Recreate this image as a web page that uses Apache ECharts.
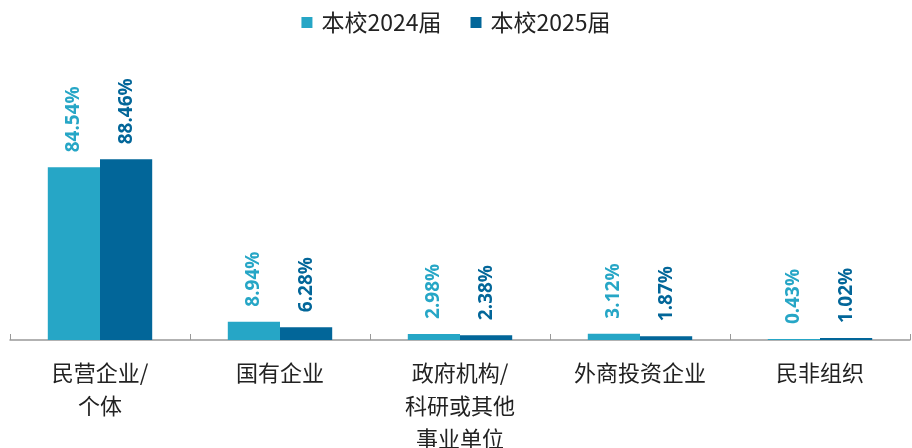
<!DOCTYPE html>
<html><head><meta charset="utf-8">
<script src="https://cdn.jsdelivr.net/npm/echarts@6/dist/echarts.min.js"></script>
<style>html,body{margin:0;padding:0;background:#fff}#c{width:912px;height:448px}</style>
</head><body><div id="c"></div>
<script>
const categories = ['民营企业/\n个体', '国有企业', '政府机构/\n科研或其他\n事业单位', '外商投资企业', '民非组织'];
const seriesNames = ['本校2024届', '本校2025届'];
const values2024 = [84.54, 8.94, 2.98, 3.12, 0.43];
const values2025 = [88.46, 6.28, 2.38, 1.87, 1.02];
const colors = ['#26A6C6', '#026699'];

const chart = echarts.init(document.getElementById('c'));
function mk(name, data, color) {
  return {
    name, type: 'bar', data, barWidth: '29%', barGap: '0%',
    itemStyle: { color },
    label: {
      show: true, position: 'top', rotate: 90, align: 'left', verticalAlign: 'middle',
      distance: 15, color, fontWeight: 'bold', fontSize: 19,
      fontFamily: '"Open Sans", "Liberation Sans", sans-serif',
      formatter: p => p.value.toFixed(2) + '%'
    }
  };
}
chart.setOption({
  animation: false,
  legend: {
    top: 6, left: 'center', itemWidth: 11, itemHeight: 11, itemGap: 29,
    icon: 'rect',
    textStyle: { fontSize: 23, color: '#222', padding: [0, 0, 0, 4], fontFamily: '"Noto Sans CJK SC", "Noto Sans", sans-serif' },
    data: seriesNames
  },
  grid: { left: 10, right: 2, top: 54, bottom: 108, containLabel: false, outerBoundsMode: 'none' },
  xAxis: {
    type: 'category', data: categories,
    axisLine: { lineStyle: { color: '#999', width: 1.5 } },
    axisTick: { show: true, inside: true, length: 6, lineStyle: { color: '#999' } },
    axisLabel: {
      interval: 0, margin: 16, fontSize: 22, lineHeight: 33, color: '#222',
      fontFamily: '"Noto Sans CJK SC", sans-serif'
    }
  },
  yAxis: { type: 'value', min: 0, max: 140, show: false, splitLine: { show: false } },
  series: [mk(seriesNames[0], values2024, colors[0]), mk(seriesNames[1], values2025, colors[1])]
});
</script></body></html>
